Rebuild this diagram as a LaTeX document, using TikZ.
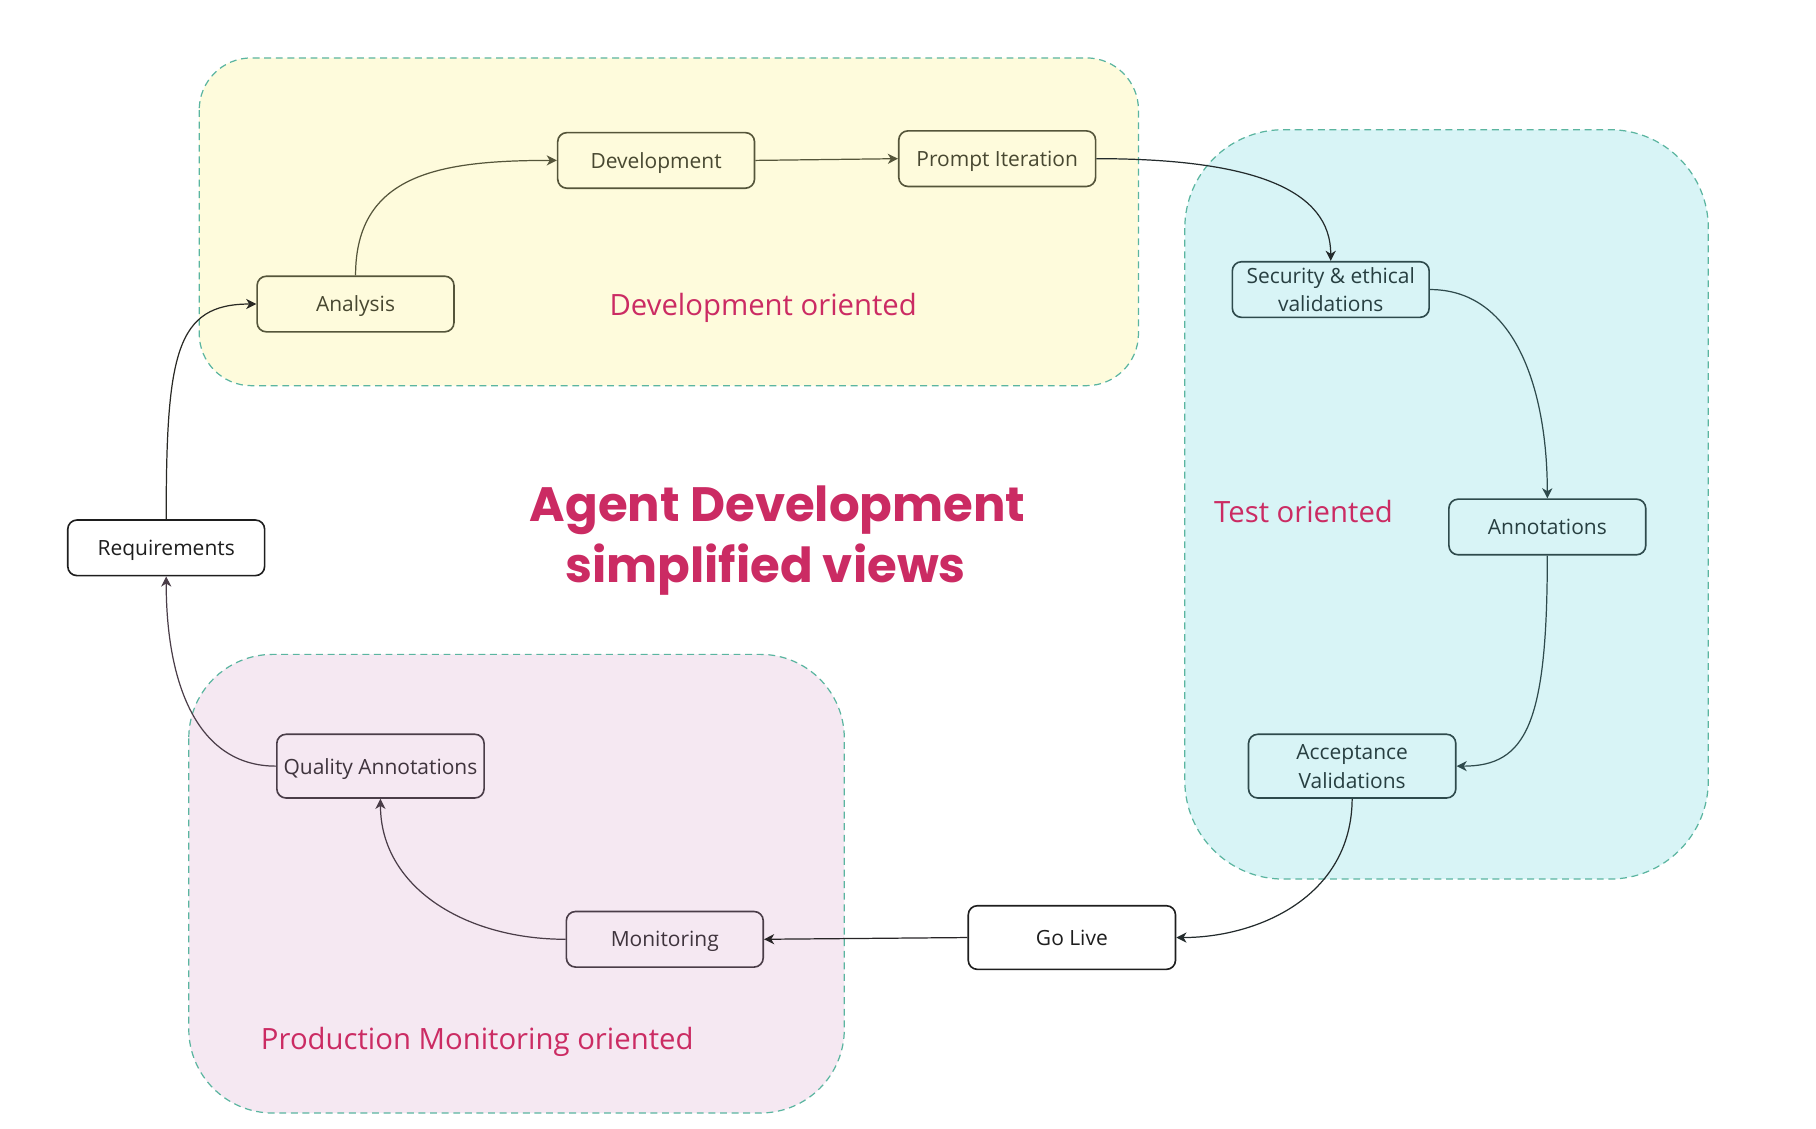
\documentclass[tikz,border=0pt]{standalone}
\usepackage{fontspec}
\setmainfont{Open Sans}
\newfontfamily\titlefont{Poppins}
\usetikzlibrary{arrows.meta}
\definecolor{crim}{HTML}{CB2B63}
\definecolor{yfill}{HTML}{FEFBDC}
\definecolor{cfill}{HTML}{D8F4F6}
\definecolor{pfill}{HTML}{F5E8F2}
\definecolor{teal}{HTML}{5BB5A0}
\definecolor{olive}{HTML}{55553A}
\definecolor{slate}{HTML}{2E4A4C}
\definecolor{plum}{HTML}{4A3D48}
\definecolor{ink}{HTML}{1E1E1E}
\begin{document}
\begin{tikzpicture}[x=0.02cm,y=-0.02cm,
  region/.style={draw=teal, line width=0.6pt, dash pattern=on 3.4pt off 2.3pt},
  box/.style={draw, rounded corners=4.5pt, minimum width=3.4cm, minimum height=0.96cm,
    inner sep=0pt, line width=0.8pt, font=\fontsize{10.3}{14.2}\selectfont, align=center,
    text depth=0pt},
  wide/.style={minimum width=3.58cm, minimum height=1.1cm},
  ybox/.style={box, draw=olive, text=olive!85!black},
  cbox/.style={box, draw=slate, text=slate!85!black},
  pbox/.style={box, draw=plum, text=plum!85!black},
  obox/.style={box, draw=ink, text=ink, fill=white},
  conn/.style={-{Stealth[length=5pt,width=5pt,inset=1.5pt]}, line width=0.6pt},
  lbl/.style={text=crim, font=\fontsize{14.4}{17}\selectfont, inner sep=0pt, anchor=base west},
  ttl/.style={text=crim, font=\titlefont\bfseries\fontsize{23.7}{31}\selectfont, inner sep=0pt, anchor=base}
]
\useasboundingbox (0,0) rectangle (1568,974);
% regions
\draw[region, fill=yfill, rounded corners=0.9cm] (172,50) rectangle (983,333);
\draw[region, fill=cfill, rounded corners=1.7cm] (1023,112) rectangle (1475,759);
\draw[region, fill=pfill, rounded corners=1.45cm] (163,565) rectangle (729,961);
% region labels
\node[lbl] (ldev) at (526,272) {Development oriented};
\node[lbl] (ltest) at (1048,451) {Test oriented};
\node[lbl] (lprod) at (225,906) {Production Monitoring oriented};
% title
\node[ttl] (t1) at (671.5,450) {Agent Development};
\node[ttl] (t2) at (661,503) {simplified views};
% nodes
\node[ybox] (ana) at (307,262.5) {Analysis};
\node[ybox] (dev) at (566.5,138.5) {Development};
\node[ybox] (pro) at (861,137) {Prompt Iteration};
\node[cbox] (sec) at (1149,250) {Security \& ethical\\validations};
\node[cbox] (ann) at (1336,455) {Annotations};
\node[cbox, wide] (acc) at (1167.5,661.5) {Acceptance\\Validations};
\node[obox, wide] (gol) at (925.5,809.5) {Go Live};
\node[pbox] (mon) at (574,811) {Monitoring};
\node[pbox, wide] (qua) at (328.5,661.5) {Quality Annotations};
\node[obox] (req) at (143.5,473) {Requirements};
% connectors
\draw[conn, draw=ink!80!olive] (req.north) .. controls (143.5,305) and (152,262.5) .. (ana.west);
\draw[conn, draw=olive] (ana.north) .. controls (307,150) and (380,138.5) .. (dev.west);
\draw[conn, draw=olive] (dev.east) -- (pro.west);
\draw[conn, draw=ink!70!slate] (pro.east) .. controls (1085,137) and (1149,165) .. (sec.north);
\draw[conn, draw=slate] (sec.east) .. controls (1310,250) and (1336,340) .. (ann.north);
\draw[conn, draw=slate] (ann.south) .. controls (1336,625) and (1318,661.5) .. (acc.east);
\draw[conn, draw=ink!70!slate] (acc.south) .. controls (1167,775) and (1085,809.5) .. (gol.east);
\draw[conn, draw=ink!80!plum] (gol.west) -- (mon.east);
\draw[conn, draw=plum] (mon.west) .. controls (400,811) and (328.5,765) .. (qua.south);
\draw[conn, draw=plum] (qua.west) .. controls (170,661.5) and (143.5,590) .. (req.south);
\end{tikzpicture}
\end{document}
